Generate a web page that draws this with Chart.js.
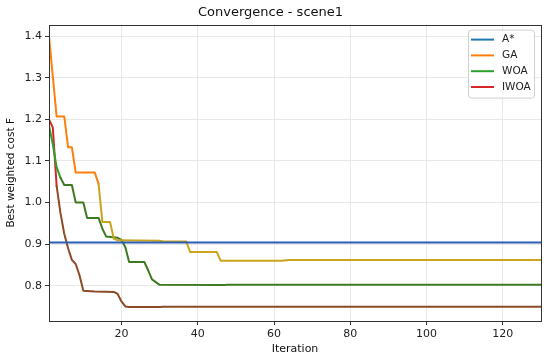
<!DOCTYPE html>
<html>
<head>
<meta charset="utf-8">
<script src="https://cdn.jsdelivr.net/npm/chart.js@4/dist/chart.umd.min.js"></script>
<style>
  html, body { margin: 0; padding: 0; background: #fff; }
  #wrap { width: 550px; height: 361px; }
</style>
</head>
<body>
<div id="wrap"><canvas id="chart"></canvas></div>
<script>
// iteration / best cost pairs
const astarIter = [1, 130];
const astarCost = [0.904, 0.904];

const gaIter = [1, 3, 5, 6, 7, 8, 13, 14, 15, 17, 18, 19, 30, 31, 37, 38, 45, 46, 62, 64, 130];
const gaCost = [1.40, 1.207, 1.207, 1.133, 1.133, 1.072, 1.072, 1.045, 0.953, 0.953, 0.913, 0.909,
                0.908, 0.906, 0.906, 0.881, 0.881, 0.860, 0.860, 0.862, 0.862];

const woaIter = [1, 2, 3, 4, 5, 7, 8, 10, 11, 14, 15, 16, 19, 20, 21, 22, 26, 27, 28, 30, 47, 48, 130];
const woaCost = [1.185, 1.14, 1.085, 1.06, 1.042, 1.042, 1.0, 1.0, 0.963, 0.963, 0.937, 0.918,
                 0.915, 0.910, 0.893, 0.857, 0.857, 0.837, 0.815, 0.802, 0.8015, 0.8025, 0.8025];

const iwoaIter = [1, 2, 3, 4, 5, 6, 7, 8, 9, 10, 13, 18, 19, 20, 21, 22, 30, 31, 130];
const iwoaCost = [1.20, 1.18, 1.04, 0.975, 0.925, 0.89, 0.862, 0.852, 0.825, 0.788, 0.786, 0.785,
                  0.780, 0.762, 0.750, 0.7485, 0.7485, 0.749, 0.749];

const names = ["A*", "GA", "WOA", "IWOA"];
const xTicks = [20, 40, 60, 80, 100, 120];
const yTicks = [0.8, 0.9, 1.0, 1.1, 1.2, 1.3, 1.4];

const font = "'DejaVu Sans', sans-serif";
const legendColors = ["#1f77b4", "#ff7f0e", "#2ca02c", "#d62728"];

function pts(xs, ys) {
  return xs.map((x, i) => ({ x: x, y: ys[i] }));
}

// colour changes along a line (the picture's lines darken once they overlap)
function segColor(from, early, late) {
  return ctx => (ctx.p0.parsed.x >= from ? late : early);
}

// box round the plot
const frame = {
  id: "frame",
  afterDatasetsDraw(chart) {
    const a = chart.chartArea, c = chart.ctx;
    c.save();
    c.strokeStyle = "#333";
    c.lineWidth = 1;
    c.strokeRect(Math.round(a.left) + 0.5, Math.round(a.top) + 0.5,
                 Math.round(a.right - a.left), Math.round(a.bottom - a.top));
    c.restore();
  }
};

// legend inside the top-right corner
const innerLegend = {
  id: "innerLegend",
  afterDraw(chart) {
    const a = chart.chartArea, c = chart.ctx;
    const w = 66, h = 68;
    const x0 = a.right - 7 - w, y0 = a.top + 5;
    c.save();
    c.fillStyle = "rgba(255,255,255,0.85)";
    c.strokeStyle = "#d0d0d0";
    c.lineWidth = 1;
    c.beginPath();
    c.roundRect(x0 + 0.5, y0 + 0.5, w, h, 3);
    c.fill();
    c.stroke();
    c.font = "10.5px " + font;
    c.textBaseline = "middle";
    names.forEach((n, i) => {
      const y = y0 + 10 + i * 15.8;
      c.strokeStyle = legendColors[i];
      c.lineWidth = 2;
      c.beginPath();
      c.moveTo(x0 + 3, y);
      c.lineTo(x0 + 26, y);
      c.stroke();
      c.fillStyle = "#222";
      c.fillText(n, x0 + 34, y);
    });
    c.restore();
  }
};

new Chart(document.getElementById("chart"), {
  type: "line",
  data: {
    datasets: [
      {
        label: names[0],
        data: pts(astarIter, astarCost),
        borderColor: "#2a5db3"
      },
      {
        label: names[1],
        data: pts(gaIter, gaCost),
        borderColor: legendColors[1],
        segment: { borderColor: segColor(14, legendColors[1], "#c9a41c") }
      },
      {
        label: names[2],
        data: pts(woaIter, woaCost),
        borderColor: legendColors[2],
        segment: { borderColor: segColor(4, legendColors[2], "#3e7b20") }
      },
      {
        label: names[3],
        data: pts(iwoaIter, iwoaCost),
        borderColor: legendColors[3],
        segment: { borderColor: segColor(3, legendColors[3], "#8d4a26") }
      }
    ]
  },
  options: {
    responsive: true,
    maintainAspectRatio: false,
    animation: false,
    devicePixelRatio: 1,
    layout: { padding: { left: 0, right: 9, top: 0, bottom: 0 } },
    elements: {
      point: { radius: 0 },
      line: { borderWidth: 2, tension: 0, borderCapStyle: "round", borderJoinStyle: "round" }
    },
    plugins: {
      legend: { display: false },
      tooltip: { enabled: false },
      title: {
        display: true,
        text: "Convergence - scene1",
        color: "#111",
        font: { family: font, size: 13, weight: "normal" },
        padding: { top: 5, bottom: 4 }
      }
    },
    scales: {
      x: {
        type: "linear",
        min: 1,
        max: 130,
        afterBuildTicks: s => { s.ticks = xTicks.map(v => ({ value: v })); },
        afterFit: s => { s.height = 40; },
        grid: { color: "#e8e8e8", tickColor: "#333", tickLength: 4 },
        border: { display: false },
        ticks: { color: "#222", padding: 3, maxRotation: 0, font: { family: font, size: 11 } },
        title: {
          display: true,
          text: "Iteration",
          color: "#111",
          font: { family: font, size: 11 },
          padding: { top: 2, bottom: 5 }
        }
      },
      y: {
        min: 0.715,
        max: 1.428,
        afterBuildTicks: s => { s.ticks = yTicks.map(v => ({ value: v })); },
        afterFit: s => { s.width = 49; },
        grid: { color: "#e8e8e8", tickColor: "#333", tickLength: 4 },
        border: { display: false },
        ticks: {
          color: "#222",
          padding: 3,
          font: { family: font, size: 11 },
          callback: v => v.toFixed(1)
        },
        title: {
          display: true,
          text: "Best weighted cost F",
          color: "#111",
          font: { family: font, size: 10.5 },
          padding: { top: 5, bottom: 2 }
        }
      }
    }
  },
  plugins: [frame, innerLegend]
});
</script>
</body>
</html>
